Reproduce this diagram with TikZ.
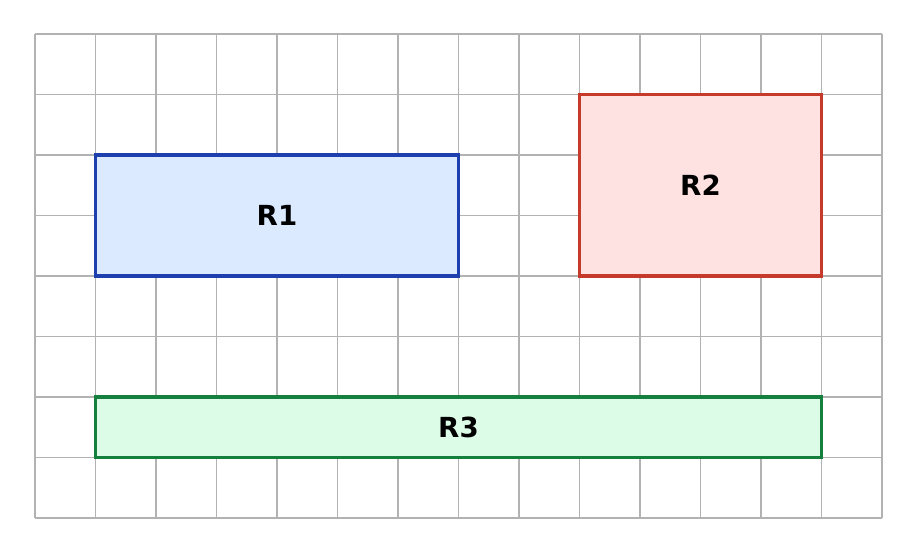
\documentclass[tikz,border=0pt]{standalone}
\usepackage{fontspec}
\setmainfont{DejaVu Sans}
\definecolor{bA}{HTML}{1E40AF}\definecolor{fA}{HTML}{DBEAFE}
\definecolor{bB}{HTML}{C53A2B}\definecolor{fB}{HTML}{FEE2E2}
\definecolor{bC}{HTML}{15803D}\definecolor{fC}{HTML}{DCFCE7}
\begin{document}
\begin{tikzpicture}[
  box/.style={line width=1.8pt,inner sep=0,font=\bfseries\fontsize{13}{15}\selectfont},
  grid/.style={draw=black!30,line width=0.7pt}]
\useasboundingbox (-0.5785,-0.5785) rectangle (14.562,8.562);
\draw[grid] (0,0) grid (14,8);
\node[box,draw=bA,fill=fA,minimum width=6cm,minimum height=2cm] (r1) at (4,5) {R1};
\node[box,draw=bB,fill=fB,minimum width=4cm,minimum height=3cm] (r2) at (11,5.5) {R2};
\node[box,draw=bC,fill=fC,minimum width=12cm,minimum height=1cm] (r3) at (7,1.5) {R3};
\end{tikzpicture}
\end{document}
